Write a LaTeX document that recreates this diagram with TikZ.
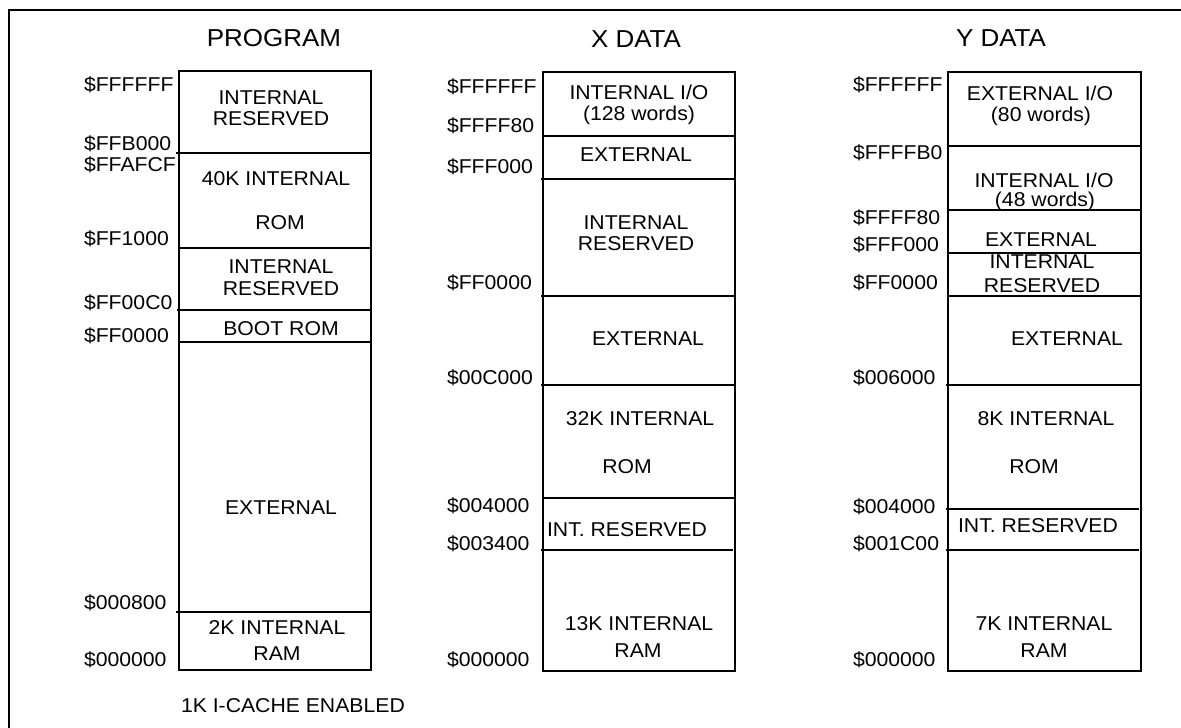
\documentclass[tikz,border=0pt]{standalone}
\usepackage{fontspec}
\setmainfont{Liberation Sans}[FakeStretch=1.06]
\begin{document}
\begin{tikzpicture}[x=1bp,y=-1bp,
  box/.style={line width=1.6bp},
  frame/.style={line width=2.3bp},
  txt/.style={inner sep=0pt,outer sep=0pt,anchor=base,font=\fontsize{20bp}{21bp}\selectfont},
  addr/.style={txt,anchor=base west},
  ttl/.style={inner sep=0pt,outer sep=0pt,anchor=base,font=\fontsize{24.5bp}{26bp}\selectfont}]
\useasboundingbox (0,0) rectangle (1181,728);
% outer frame (only top and left visible)
\draw[frame] (9,728) -- (9,10) -- (1181,10);

% ---------------- PROGRAM ----------------
\node[ttl] (ptitle) at (274,46.7) {PROGRAM};
\draw[box] (179,71) rectangle (371,670);
\draw[box] (176,153) -- (371,153);
\draw[box] (179,248) -- (371,248);
\draw[box] (177,310) -- (371,310);
\draw[box] (179,342) -- (371,342);
\draw[box] (176,612) -- (371,612);
\node[txt] (p1a) at (271,105) {INTERNAL};
\node[txt] (p1b) at (271,125.5) {RESERVED};
\node[txt] (p2a) at (276,186) {40K INTERNAL};
\node[txt] (p2b) at (280,230) {ROM};
\node[txt] (p3a) at (281,273) {INTERNAL};
\node[txt] (p3b) at (281,295) {RESERVED};
\node[txt] (p4) at (281,335.5) {BOOT ROM};
\node[txt] (p5) at (281,514) {EXTERNAL};
\node[txt] (p6a) at (277,634) {2K INTERNAL};
\node[txt] (p6b) at (277,660) {RAM};
\node[addr] (pnote) at (181,712) {1K I-CACHE ENABLED};
\node[addr] (pa1) at (84,91.5) {\$FFFFFF};
\node[addr] (pa2) at (84,150.5) {\$FFB000};
\node[addr] (pa3) at (84,171.5) {\$FFAFCF};
\node[addr] (pa4) at (84,245.5) {\$FF1000};
\node[addr] (pa5) at (84,309) {\$FF00C0};
\node[addr] (pa6) at (84,342) {\$FF0000};
\node[addr] (pa7) at (84,609) {\$000800};
\node[addr] (pa8) at (84,666.5) {\$000000};

% ---------------- X DATA ----------------
\node[ttl] (xtitle) at (636,47.3) {X DATA};
\draw[box] (543,72) rectangle (735,671);
\draw[box] (543,136) -- (735,136);
\draw[box] (541,179) -- (735,179);
\draw[box] (541,296) -- (735,296);
\draw[box] (541,385) -- (735,385);
\draw[box] (543,498) -- (735,498);
\draw[box] (541,550) -- (733,550);
\node[txt] (x1a) at (639,100) {INTERNAL I/O};
\node[txt] (x1b) at (639,120.7) {(128 words)};
\node[txt] (x2) at (636,161.7) {EXTERNAL};
\node[txt] (x3a) at (636,230) {INTERNAL};
\node[txt] (x3b) at (636,250.7) {RESERVED};
\node[txt] (x4) at (648,345) {EXTERNAL};
\node[txt] (x5a) at (640,425) {32K INTERNAL};
\node[txt] (x5b) at (627,473.3) {ROM};
\node[txt] (x6) at (627,536.7) {INT. RESERVED};
\node[txt] (x7a) at (639,630) {13K INTERNAL};
\node[txt] (x7b) at (638,657.3) {RAM};
\node[addr] (xa1) at (447,94) {\$FFFFFF};
\node[addr] (xa2) at (447,132.7) {\$FFFF80};
\node[addr] (xa3) at (447,173.3) {\$FFF000};
\node[addr] (xa4) at (447,289.3) {\$FF0000};
\node[addr] (xa5) at (447,384) {\$00C000};
\node[addr] (xa6) at (447,512.3) {\$004000};
\node[addr] (xa7) at (447,550.7) {\$003400};
\node[addr] (xa8) at (447,666.7) {\$000000};

% ---------------- Y DATA ----------------
\node[ttl] (ytitle) at (1001,47) {Y DATA};
\draw[box] (948,72) rectangle (1141,671);
\draw[box] (948,146) -- (1141,146);
\draw[box] (948,210) -- (1141,210);
\draw[box] (948,253) -- (1141,253);
\draw[box] (948,296) -- (1141,296);
\draw[box] (946,385) -- (1141,385);
\draw[box] (946,509) -- (1139,509);
\draw[box] (946,550) -- (1139,550);
\node[txt] (y1a) at (1040,100.7) {EXTERNAL I/O};
\node[txt] (y1b) at (1041,121.7) {(80 words)};
\node[txt] (y2a) at (1044,187.3) {INTERNAL I/O};
\node[txt] (y2b) at (1045,206.7) {(48 words)};
\node[txt] (y3) at (1041,246.7) {EXTERNAL};
\node[txt] (y4a) at (1042,268.3) {INTERNAL};
\node[txt] (y4b) at (1042,292.7) {RESERVED};
\node[txt] (y5) at (1067,345) {EXTERNAL};
\node[txt] (y6a) at (1046,425) {8K INTERNAL};
\node[txt] (y6b) at (1034,473.3) {ROM};
\node[txt] (y7) at (1038,532) {INT. RESERVED};
\node[txt] (y8a) at (1044,630) {7K INTERNAL};
\node[txt] (y8b) at (1044,657.3) {RAM};
\node[addr] (ya1) at (853,91.7) {\$FFFFFF};
\node[addr] (ya2) at (853,159.3) {\$FFFFB0};
\node[addr] (ya3) at (853,225) {\$FFFF80};
\node[addr] (ya4) at (853,251.7) {\$FFF000};
\node[addr] (ya5) at (853,289.3) {\$FF0000};
\node[addr] (ya6) at (853,384) {\$006000};
\node[addr] (ya7) at (853,513.3) {\$004000};
\node[addr] (ya8) at (853,550.7) {\$001C00};
\node[addr] (ya9) at (853,666.7) {\$000000};
\end{tikzpicture}
\end{document}
